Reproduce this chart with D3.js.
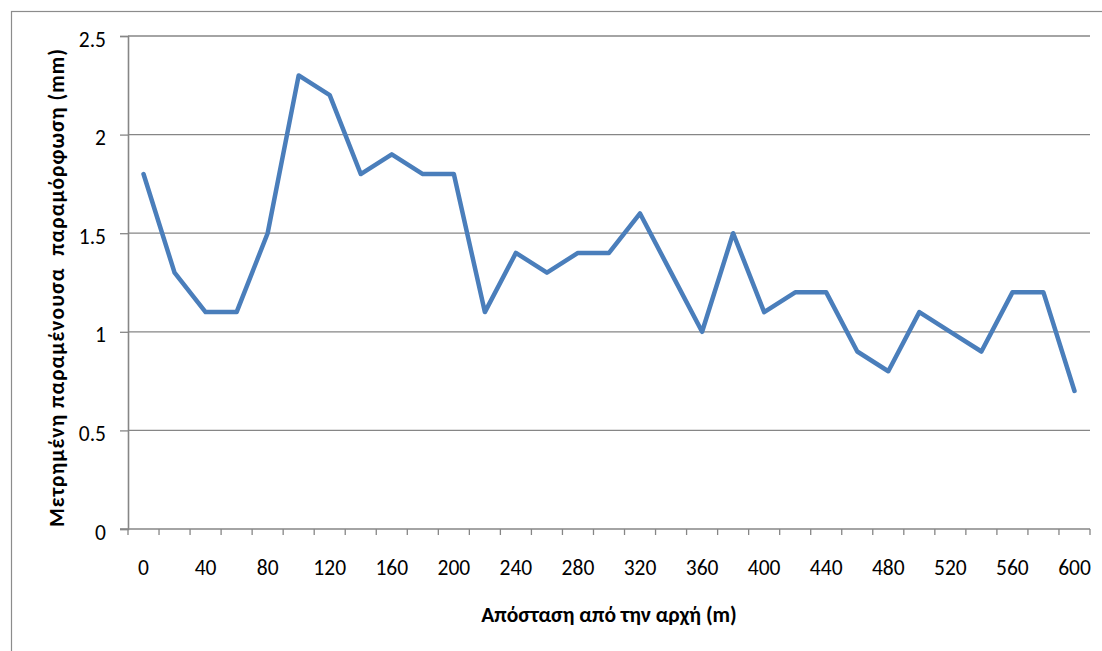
<!DOCTYPE html>
<html>
<head>
<meta charset="utf-8">
<script src="https://cdn.jsdelivr.net/npm/d3@7"></script>
<style>
  html, body { margin: 0; padding: 0; background: #ffffff; }
  svg { display: block; }
  text { font-family: Carlito, Calibri, "Open Sans", "Noto Sans", sans-serif; fill: #000; }
</style>
</head>
<body>
<svg id="chart" width="1102" height="651"></svg>
<script>
// Distance from start (m) for each measurement station
const distances = [0, 20, 40, 60, 80, 100, 120, 140, 160, 180, 200, 220, 240, 260, 280, 300,
                   320, 340, 360, 380, 400, 420, 440, 460, 480, 500, 520, 540, 560, 580, 600];
// Measured residual deformation (mm)
const deformation = [1.8, 1.3, 1.1, 1.1, 1.5, 2.3, 2.2, 1.8, 1.9, 1.8, 1.8, 1.1, 1.4, 1.3, 1.4, 1.4,
                     1.6, 1.3, 1.0, 1.5, 1.1, 1.2, 1.2, 0.9, 0.8, 1.1, 1.0, 0.9, 1.2, 1.2, 0.7];
// Value axis ticks
const yTicks = [0, 0.5, 1, 1.5, 2, 2.5];
// Category labels shown on the horizontal axis (every second station)
const xLabels = [0, 40, 80, 120, 160, 200, 240, 280, 320, 360, 400, 440, 480, 520, 560, 600];

const xTitle = "Απόσταση από την αρχή (m)";
const yTitle = "Μετρημένη παραμένουσα  παραμόρφωση (mm)";

const svg = d3.select("#chart");
const plot = { left: 128, right: 1090, top: 36, bottom: 529 };
const axisColor = "#868686";

// Chart area frame
svg.append("rect")
  .attr("x", 11.5).attr("y", 11.5)
  .attr("width", 1102).attr("height", 651)
  .attr("fill", "#fff")
  .attr("stroke", "#8c8c8c")
  .attr("stroke-width", 1.2);

const x = d3.scaleBand()
  .domain(distances)
  .range([plot.left, plot.right])
  .padding(0);

const y = d3.scaleLinear()
  .domain([0, 2.5])
  .range([plot.bottom, plot.top]);

// Horizontal gridlines
svg.append("g")
  .selectAll("line")
  .data(yTicks.filter(d => d > 0))
  .join("line")
  .attr("x1", plot.left).attr("x2", plot.right)
  .attr("y1", d => y(d)).attr("y2", d => y(d))
  .attr("stroke", axisColor)
  .attr("stroke-width", 1.3);

// Value axis
const yAxis = d3.axisLeft(y)
  .tickValues(yTicks)
  .tickSize(8)
  .tickPadding(14)
  .tickFormat(d => String(d));

const gy = svg.append("g")
  .attr("transform", `translate(${plot.left},0)`)
  .call(yAxis);
gy.select(".domain").attr("stroke", axisColor).attr("stroke-width", 1.6);
gy.selectAll(".tick line").attr("stroke", axisColor).attr("stroke-width", 1.3);
gy.selectAll(".tick text")
  .attr("dy", "0.47em")
  .style("font-size", "21.5px")
  .attr("fill", "#000");

// Category axis: line, tick marks at band boundaries, labels at band centres
const gx = svg.append("g");
gx.append("line")
  .attr("x1", plot.left - 8).attr("x2", plot.right)
  .attr("y1", plot.bottom).attr("y2", plot.bottom)
  .attr("stroke", axisColor).attr("stroke-width", 1.6);

const boundaries = distances.map(d => x(d)).concat([x(distances[distances.length - 1]) + x.bandwidth()]);
gx.selectAll("line.tk")
  .data(boundaries)
  .join("line")
  .attr("class", "tk")
  .attr("x1", d => d).attr("x2", d => d)
  .attr("y1", plot.bottom).attr("y2", plot.bottom + 6)
  .attr("stroke", axisColor).attr("stroke-width", 1.3);

gx.selectAll("text")
  .data(xLabels)
  .join("text")
  .attr("x", d => x(d) + x.bandwidth() / 2)
  .attr("y", 575)
  .attr("text-anchor", "middle")
  .style("font-size", "21.5px")
  .text(d => d);

// Deformation line
const line = d3.line()
  .x((d, i) => x(distances[i]) + x.bandwidth() / 2)
  .y(d => y(d));

svg.append("path")
  .datum(deformation)
  .attr("d", line)
  .attr("fill", "none")
  .attr("stroke", "#4a7ebb")
  .attr("stroke-width", 4.5)
  .attr("stroke-linejoin", "round")
  .attr("stroke-linecap", "round");

// Axis titles
svg.append("text")
  .attr("x", 609)
  .attr("y", 622)
  .attr("text-anchor", "middle")
  .style("font-size", "21.5px")
  .style("font-weight", "bold")
  .text(xTitle);

svg.append("text")
  .attr("transform", "translate(64,288) rotate(-90)")
  .attr("text-anchor", "middle")
  .attr("textLength", 478)
  .attr("lengthAdjust", "spacing")
  .style("font-size", "21.5px")
  .style("font-weight", "bold")
  .style("white-space", "pre")
  .text(yTitle);
</script>
</body>
</html>
